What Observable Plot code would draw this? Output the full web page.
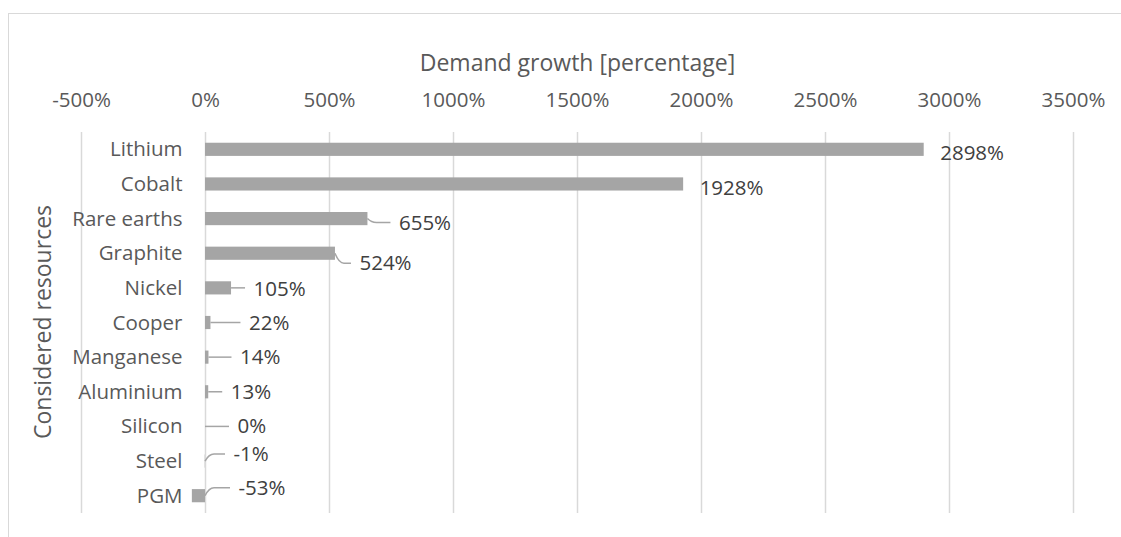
<!DOCTYPE html>
<html>
<head>
<meta charset="utf-8">
<script src="https://cdn.jsdelivr.net/npm/d3@7"></script>
<script src="https://cdn.jsdelivr.net/npm/@observablehq/plot@0.6"></script>
<style>
  html, body { margin: 0; padding: 0; background: #fff; }
  #wrap { position: relative; width: 1121px; height: 537px; overflow: hidden; }
  #border { position: absolute; left: 8px; top: 13px; right: -2px; bottom: -2px;
            border-top: 1.5px solid #d9d9d9; border-left: 1.5px solid #d9d9d9; }
  #chart { position: absolute; left: 0; top: 0; }
</style>
</head>
<body>
<div id="wrap"><div id="border"></div><div id="chart"></div></div>
<script>
// ---- data ----
const categories = ["Lithium", "Cobalt", "Rare earths", "Graphite", "Nickel", "Cooper", "Manganese", "Aluminium", "Silicon", "Steel", "PGM"];
const values = [2898, 1928, 655, 524, 105, 22, 14, 13, 0, -1, -53];
const xTicks = [-500, 0, 500, 1000, 1500, 2000, 2500, 3000, 3500];
const xTitle = "Demand growth [percentage]";
const yTitle = "Considered resources";

const data = categories.map((c, i) => ({category: c, value: values[i]}));

// ---- label styling (pixel offsets of data labels: [dx, dy, leaderStyle]) ----
// leaderStyle: 0 none, 1 straight, 2 bent
const labelStyle = [[16, 4, 0], [16, 4, 0], [31, 4, 2], [24, 10, 2], [22, 1, 1], [38, 0, 1], [31, 0, 1], [22, 0, 1], [32, 0, 1], [28, -7, 2], [33, -8, 2]];

const textColor = "#595959";
const labelColor = "#404040";
const barColor = "#a5a5a5";
const gridColor = "#d9d9d9";

const plot = Plot.plot({
  width: 1121,
  height: 537,
  marginLeft: 81,
  marginRight: 48,
  marginTop: 132,
  marginBottom: 24,
  style: {fontFamily: "'Open Sans', sans-serif", fontSize: "20.5px", background: "transparent"},
  x: {domain: [-500, 3500], axis: null},
  y: {domain: categories, paddingInner: 0.62, paddingOuter: 0.31, round: false, axis: null},
  marks: [
    Plot.gridX(xTicks, {stroke: gridColor, strokeOpacity: 1, strokeWidth: 1.5}),
    Plot.barX(data, {x: "value", y: "category", fill: barColor}),
    // top tick labels
    Plot.text(xTicks, {x: d => d, frameAnchor: "top", lineAnchor: "middle", dy: -32, text: d => d + "%", fill: textColor}),
    // x title
    Plot.text([xTitle], {x: () => 1500, frameAnchor: "top", lineAnchor: "middle", dy: -69, text: d => d, fill: textColor, fontSize: 23}),
    // category labels
    Plot.text(data, {y: "category", text: "category", frameAnchor: "left", dx: 101, textAnchor: "end", fill: textColor}),
    // y title
    Plot.text([yTitle], {frameAnchor: "left", dx: -38, dy: -1, rotate: -90, textAnchor: "middle", lineAnchor: "middle", text: d => d, fill: textColor, fontSize: 23}),
    // data labels
    Plot.text(data, {
      x: d => Math.max(d.value, 0),
      y: "category",
      text: d => d.value + "%",
      textAnchor: "start",
      fill: labelColor,
      render(index, scales, channels, dimensions, context, next) {
        const g = next(index, scales, channels, dimensions, context);
        d3.select(g).selectAll("text").each(function(_, k) {
          const s = labelStyle[index[k]];
          d3.select(this).attr("dx", s[0]).attr("dy", s[1] + "px");
        });
        return g;
      }
    })
  ]
});

// leader lines, positioned through the plot's own scales
const xs = plot.scale("x"), ys = plot.scale("y");
const svg = d3.select(plot);
const leaders = svg.append("g").attr("fill", "none").attr("stroke", barColor).attr("stroke-width", 1.5);
data.forEach((d, i) => {
  const [dx, dy, kind] = labelStyle[i];
  if (!kind) return;
  const ax = xs.apply(Math.max(d.value, 0));
  const ay = ys.apply(d.category) + ys.bandwidth / 2;
  const end = ax + dx - 8;
  let path;
  if (kind === 1) path = `M${ax},${ay}H${end}`;
  else path = `M${ax},${ay}Q${ax + 4},${ay + dy} ${ax + 9},${ay + dy}H${end}`;
  leaders.append("path").attr("d", path);
});

document.getElementById("chart").appendChild(plot);
</script>
</body>
</html>
